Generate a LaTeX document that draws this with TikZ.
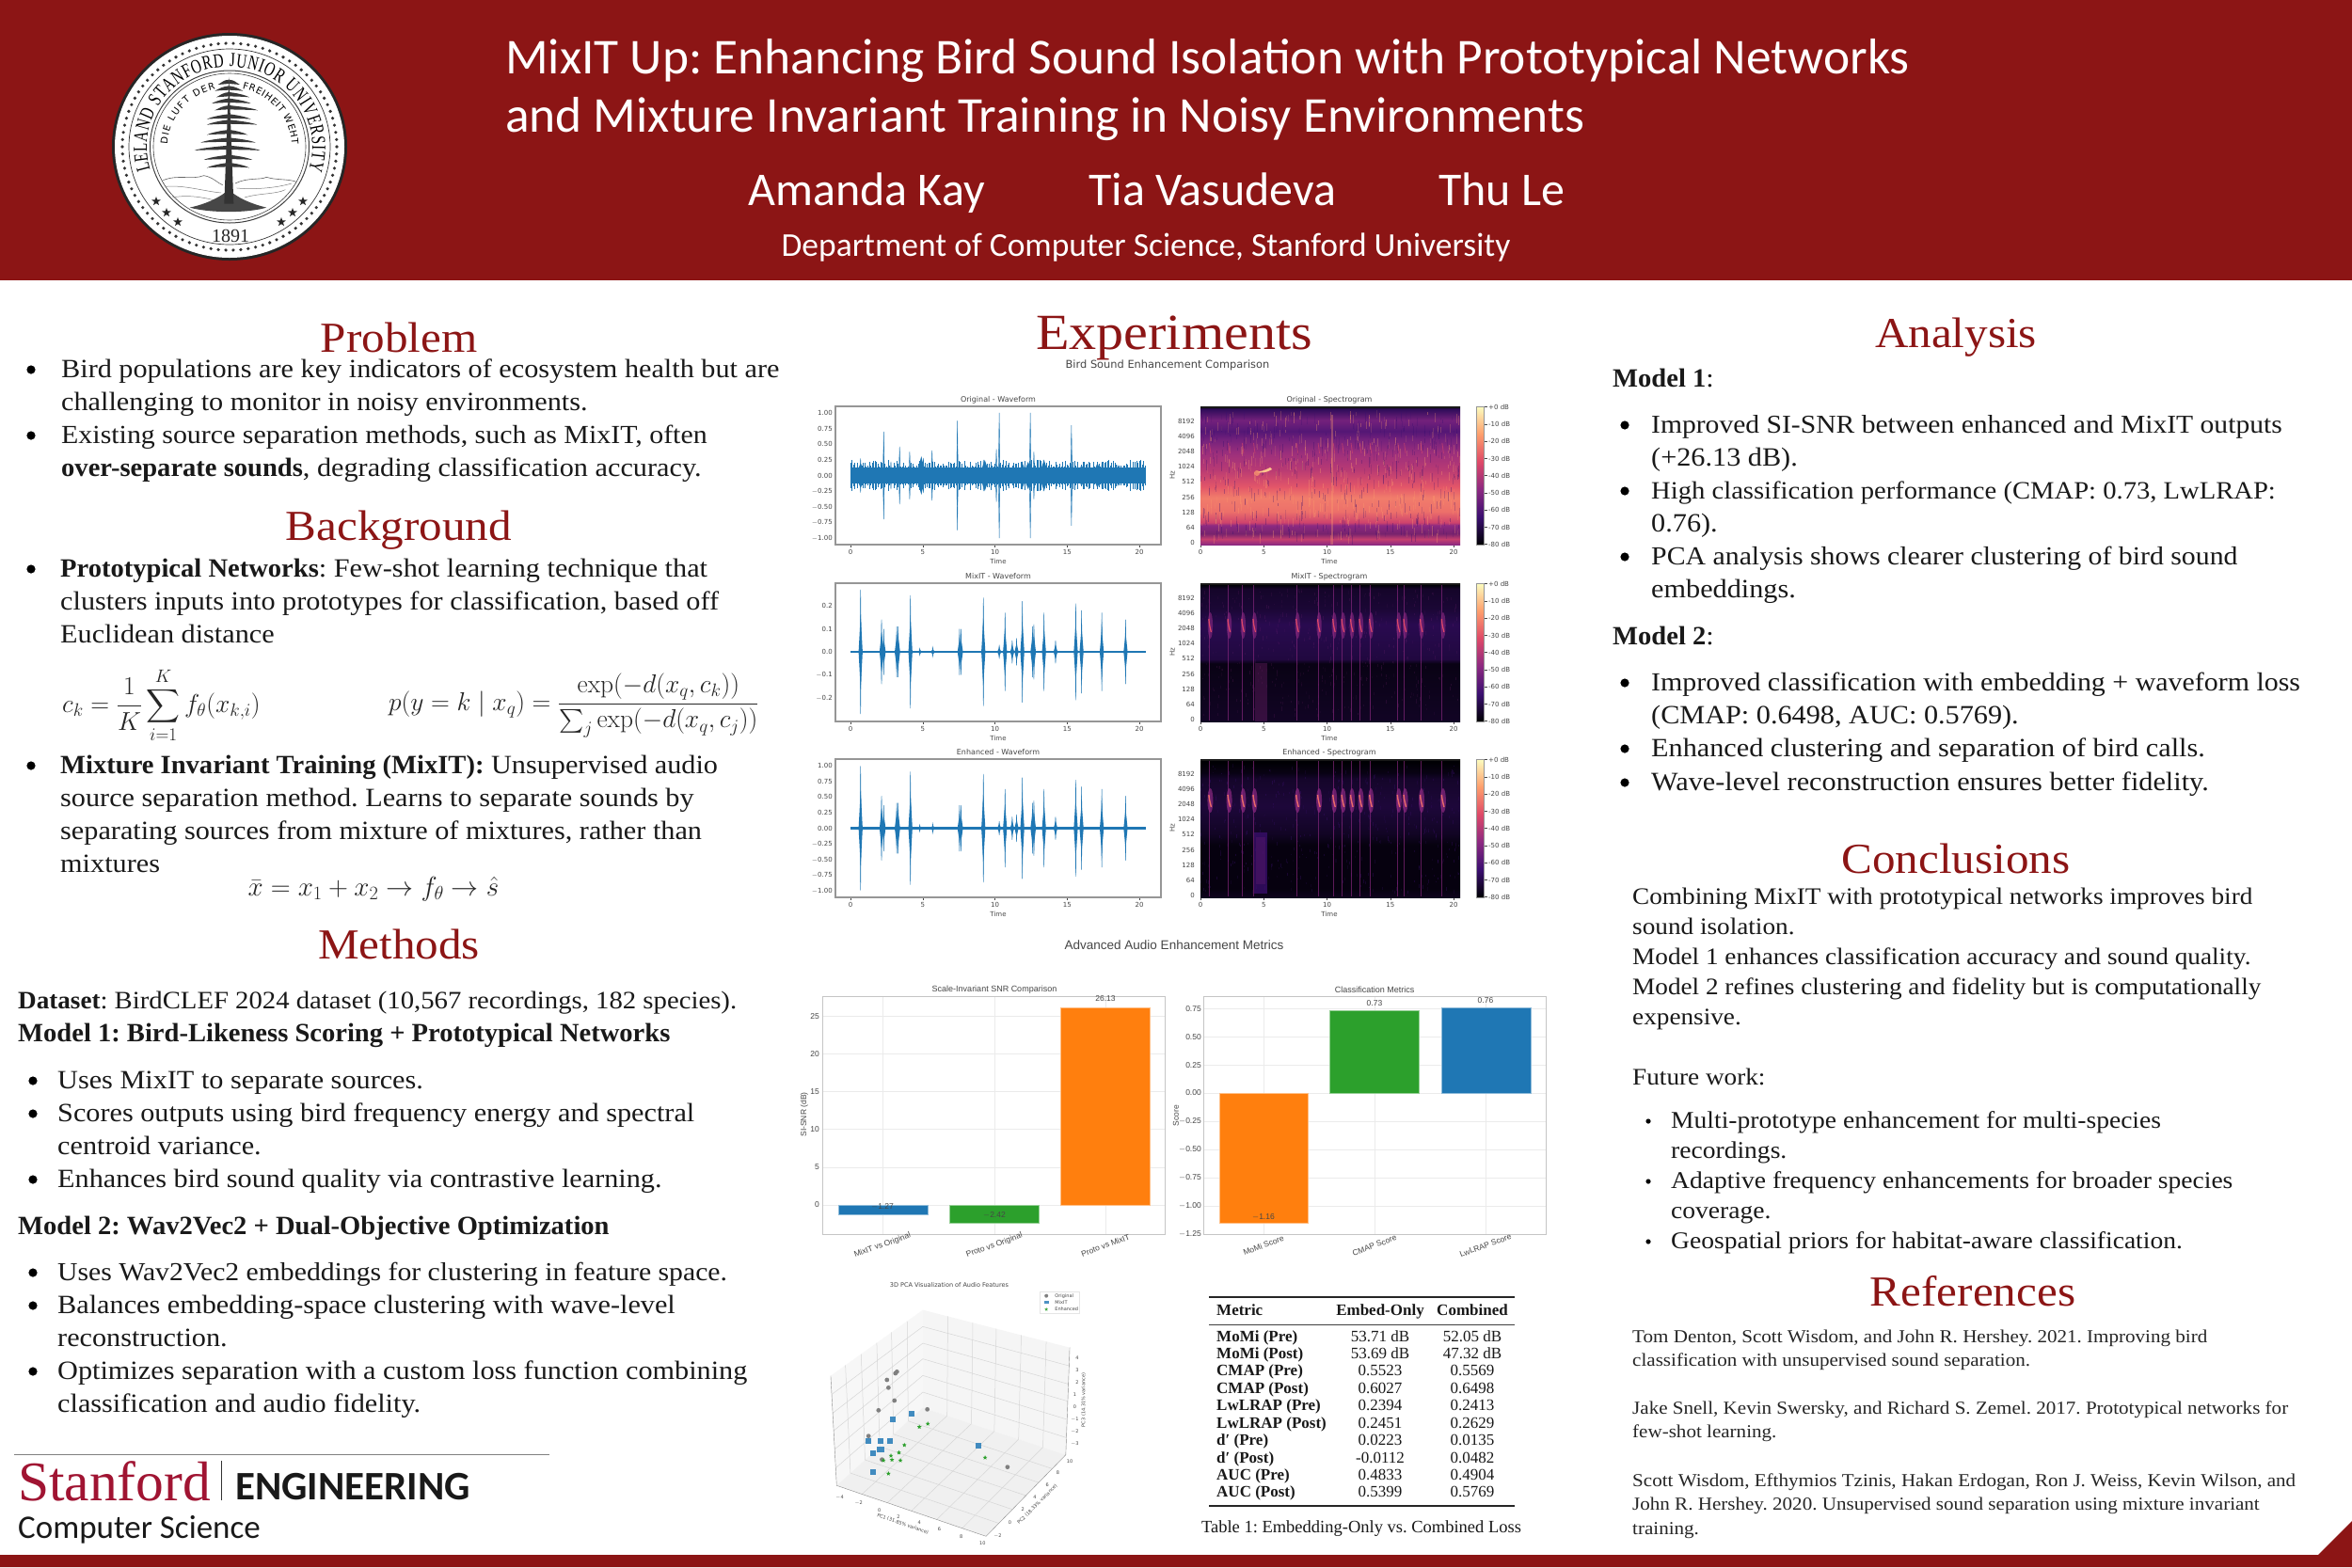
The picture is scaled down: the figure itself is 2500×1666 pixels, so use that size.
\documentclass[tikz,border=0pt]{standalone}
\usepackage{fix-cm}
\usepackage{exscale}
\usepackage[no-math]{fontspec}
\setmainfont{Liberation Serif}[UprightFeatures={FakeStretch=1.08}, BoldFeatures={FakeStretch=1.02}]
\setsansfont{Carlito}
\newfontfamily\plotfont{DejaVu Sans}
\newfontfamily\barfont{Liberation Sans}
\newfontfamily\tablefont{Liberation Serif}
\newfontfamily\sealfont[FakeStretch=.72]{Liberation Serif}
\frenchspacing
\usetikzlibrary{calc, decorations.text, shapes.geometric}
\definecolor{cardinal}{RGB}{140,21,21}
\definecolor{crimson}{RGB}{160,20,50}
\definecolor{tabblue}{RGB}{31,119,180}
\definecolor{taborange}{RGB}{255,127,14}
\definecolor{tabgreen}{RGB}{44,160,44}
\definecolor{inkgray}{RGB}{70,70,70}
\definecolor{spine}{RGB}{150,150,150}
\definecolor{gridgray}{RGB}{235,235,235}
\definecolor{magA}{RGB}{0,0,4}
\definecolor{magB}{RGB}{59,15,112}
\definecolor{magC}{RGB}{140,41,129}
\definecolor{magD}{RGB}{222,73,104}
\definecolor{magE}{RGB}{254,159,109}
\definecolor{magF}{RGB}{252,253,191}
\pgfdeclareverticalshading{magmabar}{100bp}{color(0bp)=(magA); color(25bp)=(magA);
    color(35bp)=(magB); color(45bp)=(magC); color(55bp)=(magD); color(65bp)=(magE);
    color(75bp)=(magF); color(100bp)=(magF)}
\pgfdeclareverticalshading{origspec}{100bp}{color(0bp)=(magC); color(25bp)=(magC);
    color(27bp)=(magD!70!magC); color(29bp)=(magC!85!black); color(32bp)=(magC);
    color(33bp)=(magD!80!magC); color(37bp)=(magE!45!magD); color(42bp)=(magE!60!magD);
    color(46bp)=(magD!85!magE); color(52bp)=(magD!55!magC); color(58bp)=(magC!80!magD);
    color(63bp)=(magC!70!magB); color(66bp)=(magB!70!magC); color(70bp)=(magC!70!magB);
    color(74bp)=(magB!80!magA); color(75bp)=(magA); color(100bp)=(magA)}
\pgfdeclareverticalshading{mixspec}{100bp}{color(0bp)=(magB!30!magA); color(25bp)=(magB!30!magA);
    color(46bp)=(magB!15!magA); color(47.5bp)=(magB!55!magA); color(60bp)=(magB!70!magA);
    color(66bp)=(magB!45!magA); color(73bp)=(magB!35!magA); color(74.5bp)=(magA);
    color(75bp)=(magA); color(100bp)=(magA)}
\pgfdeclareverticalshading{enhspec}{100bp}{color(0bp)=(magB!25!magA); color(25bp)=(magB!25!magA);
    color(28bp)=(magA!90!magB); color(44bp)=(magA!90!magB); color(48bp)=(magB!30!magA);
    color(58bp)=(magB!50!magA); color(68bp)=(magB!35!magA); color(70bp)=(magB!15!magA);
    color(74bp)=(magA); color(75bp)=(magA); color(100bp)=(magA)}
%% times and sizes of the calls, shared by the filtered panels
\def\birdcalls{.7/.27, 2.15/.14, 2.3/.1, 3.2/.11, 3.3/.11, 4.15/.245, 4.8/.015, 5.7/.02,
    7.55/.1, 7.65/.1, 9.2/.235, 10.3/.03, 10.7/.17, 11.2/.05, 11.5/.06, 11.9/.22, 12.6/.11,
    12.7/.12, 13.4/.17, 14.2/.05, 15.6/.21, 16/.18, 17.4/.17, 19.05/.14}
\def\chirptimes{.7, 2.2, 3.3, 4.2, 7.6, 9.3, 10.5, 11.2, 11.9, 12.6, 13.4, 15.6, 16.1, 17.4, 19.1}
%% a line set a little tighter, where the digits run wide
\newcommand{\tighter}[1]{\fontsize{#1}{28}\selectfont}

\begin{document}
\begin{tikzpicture}[
    x=1pt, y=-1pt,
    headline/.style={font=\sffamily\fontsize{53.4}{54}\selectfont, text=white, anchor=base west, inner sep=0pt},
    authorname/.style={font=\sffamily\fontsize{50}{50}\selectfont, text=white, anchor=base west, inner sep=0pt},
    heading/.style={font=\fontsize{45.5}{46}\selectfont, text=cardinal, anchor=base, inner sep=0pt},
    bodyline/.style={font=\fontsize{28}{28}\selectfont, text=black!90, anchor=base west, inner sep=0pt},
    midline/.style={font=\fontsize{25.2}{26}\selectfont, text=black!90, anchor=base west, inner sep=0pt},
    refline/.style={font=\fontsize{19.5}{20}\selectfont, text=black!85, anchor=base west, inner sep=0pt},
    eqnline/.style={font=\fontsize{27.5}{32}\selectfont, text=black!85, inner sep=0pt},
    plottitle/.style={font=\plotfont\fontsize{8}{8}\selectfont, text=inkgray, inner sep=0pt},
    plottick/.style={font=\plotfont\fontsize{7}{7}\selectfont, text=inkgray, inner sep=0pt},
    bartitle/.style={font=\barfont\fontsize{9}{9}\selectfont, text=inkgray, inner sep=0pt},
    bartick/.style={font=\barfont\fontsize{8.5}{8.5}\selectfont, text=inkgray, inner sep=0pt},
    pcatick/.style={font=\plotfont\fontsize{5}{5}\selectfont, text=inkgray, inner sep=0pt},
    tabletext/.style={font=\tablefont\fontsize{17}{17}\selectfont, text=black!90, anchor=base, inner sep=0pt},
    frame/.style={draw=spine, line width=1pt},
    wave/.style={fill=tabblue, draw=tabblue, line width=.35pt},
    gridline/.style={draw=gridgray, line width=1pt},
    wallgrid/.style={draw=black!16, line width=.5pt},
]
    \useasboundingbox (0,0) rectangle (2500,1666);
    \fill[white] (0,0) rectangle (2500,1666);

    %% the header band and the bottom band with its corner
    \fill[cardinal] (0,0) rectangle (2500,298);
    \fill[cardinal] (0,1653) -- (2464,1653) -- (2500,1617) -- (2500,1666) -- (0,1666) -- cycle;

    %% the seal
    \fill[black!85] (244,156) ellipse [x radius=125, y radius=121];
    \fill[white] (244,156) ellipse [x radius=122, y radius=118];
    \foreach \a in {0,4,...,356}
        \fill[black!80] (244,156) ++(\a:114pt and 110pt) circle (1.8pt);
    \draw[black!80, line width=.7pt] (244,156) ellipse [x radius=107, y radius=104];
    \draw[black!75, line width=1pt] (244,156) ellipse [x radius=84.5, y radius=81];
    \draw[black!75, line width=.6pt] (244,156) ellipse [x radius=81, y radius=78];
    \path[decorate, decoration={text along path, text align={fit to path},
            text={|\sealfont\fontsize{21}{21}\selectfont|LELAND STANFORD JUNIOR UNIVERSITY}}]
        (244,156) ++(197:88pt and 85pt) arc[start angle=197, end angle=-17, x radius=88pt, y radius=85pt];
    \path[decorate, decoration={text along path, text align={fit to path},
            text={|\plotfont\fontsize{10}{10}\selectfont|DIE LUFT DER}}]
        (244,156) ++(178:66pt and 63pt) arc[start angle=178, end angle=103, x radius=66pt, y radius=63pt];
    \path[decorate, decoration={text along path, text align={fit to path},
            text={|\plotfont\fontsize{10}{10}\selectfont|FREIHEIT WEHT}}]
        (244,156) ++(78:66pt and 63pt) arc[start angle=78, end angle=2, x radius=66pt, y radius=63pt];
    \node[font=\tablefont\fontsize{20}{20}\selectfont, text=black!85, inner sep=0pt] (sealyear) at (245,251) {1891};
    \foreach \x/\y in {166/214, 177/226, 189/236, 322/214, 311/226, 299/236}
        \node[star, star points=5, star point ratio=2.4, fill=black!85, minimum size=10pt, inner sep=0pt] (sealstar\x) at (\x,\y) {};
    %% hills, then the mound and the tree, in the scale of a 3x crop
    \begin{scope}[shift={(120,60)}, x=.3333pt, y=-.3333pt]
        \draw[black!60, line width=.6pt] (160,395) .. controls (210,375) and (250,395) .. (290,380)
            .. controls (320,385) and (335,405) .. (350,410) (390,405) .. controls (430,385) and (470,395) .. (490,385)
            .. controls (520,395) and (560,390) .. (585,400);
        \draw[black!50, line width=.5pt] (170,415) .. controls (230,410) and (290,430) .. (345,435)
            (395,420) .. controls (450,425) and (520,420) .. (570,405);
        \draw[black!50, line width=.5pt] (190,450) .. controls (240,440) and (290,450) .. (330,460)
            (420,450) .. controls (470,435) and (520,440) .. (550,425);
        \fill[black!72] (245,482) .. controls (300,470) and (340,450) .. (370,425)
            .. controls (395,450) and (440,470) .. (490,482) .. controls (430,500) and (310,500) .. (245,482) -- cycle;
        \fill[black!80] (370,65) -- (355,470) -- (385,470) -- cycle;
        \foreach \y/\xl/\xr in {90/335/405, 110/325/415, 130/330/435, 150/315/440, 172/325/462, 200/300/440,
                218/300/460, 250/300/430, 275/280/455, 300/260/470, 330/290/445, 355/300/435}{
            \fill[black!78] (370,\y-16) .. controls (350,\y-14) and (\xl+15,\y-8) .. (\xl,\y)
                .. controls (\xl+18,\y-2) and (350,\y-2) .. (370,\y-3) -- cycle;
            \fill[black!78] (370,\y-16) .. controls (390,\y-14) and (\xr-15,\y-8) .. (\xr,\y)
                .. controls (\xr-18,\y-2) and (390,\y-2) .. (370,\y-3) -- cycle;
        }
    \end{scope}

    %% title, authors, department
    \node[headline] (titleone) at (537,78) {MixIT Up: Enhancing Bird Sound Isolation with Prototypical Networks};
    \node[headline] (titletwo) at (537,140) {and Mixture Invariant Training in Noisy Environments};
    \foreach \x/\name in {795/Amanda Kay, 1157/Tia Vasudeva, 1529/Thu Le}
        \node[authorname] (author\x) at (\x,218) {\name};
    \node[font=\sffamily\fontsize{35.5}{36}\selectfont, text=white, anchor=base, inner sep=0pt] (dept) at (1218,272)
        {Department of Computer Science, Stanford University};

    %% left column
    \foreach \y/\name in {374/Problem, 574/Background, 1019/Methods}
        \node[heading] (head\y) at (424,\y) {\name};
    \foreach \y/\txt in {401/{Bird populations are key indicators of ecosystem health but are},
            436/{challenging to monitor in noisy environments.},
            471/{\tighter{27.7}Existing source separation methods, such as MixIT, often},
            506/{\textbf{over-separate sounds}, degrading classification accuracy.}}
        \node[bodyline] (prob\y) at (65,\y) {\txt};
    \foreach \y/\txt in {613/{\textbf{Prototypical Networks}: Few-shot learning technique that},
            648/{clusters inputs into prototypes for classification, based off},
            683/{Euclidean distance},
            822/{\textbf{Mixture Invariant Training (MixIT):} Unsupervised audio},
            857/{source separation method. Learns to separate sounds by},
            892/{separating sources from mixture of mixtures, rather than},
            927/{mixtures}}
        \node[bodyline] (back\y) at (64,\y) {\txt};
    \foreach \y/\txt in {1072/{\tighter{26.6}\textbf{Dataset}: BirdCLEF 2024 dataset (10,567 recordings, 182 species).},
            1107/{\textbf{Model 1: Bird-Likeness Scoring + Prototypical Networks}},
            1312/{\textbf{Model 2: Wav2Vec2 + Dual-Objective Optimization}}}
        \node[bodyline] (meth\y) at (19,\y) {\txt};
    \foreach \y/\txt in {1157/{Uses MixIT to separate sources.},
            1192/{Scores outputs using bird frequency energy and spectral},
            1227/{centroid variance.},
            1262/{Enhances bird sound quality via contrastive learning.},
            1361/{\tighter{27.5}Uses Wav2Vec2 embeddings for clustering in feature space.},
            1396/{Balances embedding-space clustering with wave-level},
            1431/{reconstruction.},
            1466/{Optimizes separation with a custom loss function combining},
            1501/{classification and audio fidelity.}}
        \node[bodyline] (meth\y) at (61,\y) {\txt};
    \foreach \x/\y in {33/401, 33/471, 33/613, 33/822, 35/1157, 35/1192, 35/1262, 35/1361, 35/1396, 35/1466,
            1727/460, 1727/530, 1727/600, 1727/734, 1727/804, 1727/840}
        \fill[black] (\x,\y-8) circle (4.6);
    \node[eqnline, anchor=west] (eqproto) at (66,750) {$\displaystyle c_k = \frac{1}{K}\sum_{i=1}^{K} f_\theta(x_{k,i})$};
    \node[eqnline, anchor=west] (eqprob) at (413,750)
        {$\displaystyle p(y=k\mid x_q)=\frac{\exp(-d(x_q,c_k))}{\sum_j\exp(-d(x_q,c_j))}$};
    \node[eqnline, font=\fontsize{29}{32}\selectfont] (eqmix) at (397,945) {$\bar{x}=x_1+x_2\to f_\theta\to\hat{s}$};

    %% logo
    \draw[black!50, line width=.8pt] (15,1546) -- (584,1546);
    \node[font=\tablefont\fontsize{59.5}{60}\selectfont, text=crimson, anchor=base west, inner sep=0pt] (logostanford) at (19,1595) {Stanford};
    \draw[black!80, line width=1pt] (235,1553) -- (235,1595);
    \node[font=\sffamily\bfseries\fontsize{43}{43}\selectfont, text=black!90, anchor=base west, inner sep=0pt] (logoeng) at (250,1594) {ENGINEERING};
    \node[font=\sffamily\fontsize{35}{35}\selectfont, text=black!90, anchor=base west, inner sep=0pt] (logocs) at (19,1635) {Computer Science};

    %% middle column, the six audio panels
    \node[heading, font=\fontsize{53.8}{54}\selectfont] (headexp) at (1248,371) {Experiments};
    \node[plottitle, font=\plotfont\fontsize{11.4}{12}\selectfont] (figone) at (1241,388) {Bird Sound Enhancement Comparison};
    \foreach \top/\name in {432/Original, 620/MixIT, 807/Enhanced}{
        \node[plottitle] (wavetitle\top) at (1061,\top-7) {\name\ - Waveform};
        \node[plottitle] (spectitle\top) at (1413,\top-7) {\name\ - Spectrogram};
        \node[plottick] (wavetime\top) at (1061,\top+165) {Time};
        \node[plottick] (spectime\top) at (1413,\top+165) {Time};
        \node[plottick, rotate=90] (spechz\top) at (1246,\top+73) {Hz};
        \foreach \t in {0,5,10,15,20}{
            \draw[inkgray, line width=.5pt] (904+\t*15.35,\top+147) -- ++(0,3);
            \node[plottick] (wavex\top\t) at (904+\t*15.35,\top+155) {\t};
            \draw[inkgray, line width=.5pt] (1276+\t*13.45,\top+147) -- ++(0,3);
            \node[plottick] (specx\top\t) at (1276+\t*13.45,\top+155) {\t};
        }
        \foreach \d/\f in {16/8192, 32/4096, 48/2048, 64/1024, 80/512, 97/256, 113/128, 129/64, 145/0}
            \node[plottick, anchor=east] (specy\top\f) at (1270,\top+\d) {\f};
        \foreach \k/\db in {0/+0, 1/-10, 2/-20, 3/-30, 4/-40, 5/-50, 6/-60, 7/-70, 8/-80}{
            \draw[inkgray, line width=.5pt] (1577.5,\top+.7+\k*18.25) -- ++(3,0);
            \node[plottick, anchor=west] (bar\top\k) at (1582,\top+.7+\k*18.25) {\db\ dB};
        }
        \shade[shading=magmabar] (1569,\top) rectangle (1577.5,\top+147);
        \draw[spine, line width=.6pt] (1569,\top) rectangle (1577.5,\top+147);
    }
    %% waveform value ticks
    \foreach \d/\s in {7/1.00, 23.7/0.75, 40.4/0.50, 57/0.25, 73.7/0.00, 90.4/$-$0.25, 107/$-$0.50, 123.7/$-$0.75, 140.4/$-$1.00}{
        \node[plottick, anchor=east] (waveyone\d) at (885,432+\d) {\s};
        \node[plottick, anchor=east] (waveythree\d) at (885,807+\d) {\s};
    }
    \foreach \yy/\s in {644/0.2, 668.5/0.1, 693/0.0, 717.5/$-$0.1, 742/$-$0.2}
        \node[plottick, anchor=east] (waveytwo\yy) at (885,\yy) {\s};

    %% the noisy original waveform
    \pgfmathsetseed{11}
    \begin{scope}[shift={(904,505.5)}, x=15.35pt, y=-66.7pt]
        \foreach \i in {0,1,...,204}{
            \pgfmathsetmacro{\amp}{.12+rnd*.13}
            \draw[tabblue, line width=.8pt] (\i*.1,\amp) -- (\i*.1,-\amp);
        }
        \fill[tabblue] (0,.13) rectangle (20.45,-.13);
        \foreach \t/\a in {.7/.2, 4.9/.3, 9.3/.25, 11.9/.2, 12.3/.22, 13.4/.25, 16/.17, 17.1/.2}
            \fill[tabblue] (\t-.35,0) -- (\t,\a) -- (\t+.35,0) -- (\t,-\a) -- cycle;
        \foreach \t/\a in {.7/.27, 2.3/.7, 2.8/.22, 3.4/.46, 4.1/.38, 4.9/.3, 5.05/.28, 5.65/.4, 7.4/.87,
                9.2/.25, 10.1/.42, 10.3/1, 11.9/.22, 12.45/1, 12.7/.38, 13.4/.25, 15.3/.8, 16.5/.2, 17.4/.2, 18.5/.17}
            \draw[wave] (\t-.05,0) -- (\t,\a) -- (\t+.05,0) -- (\t,-\a) -- cycle;
    \end{scope}
    %% the two filtered waveforms, same calls in both
    \foreach \zero in {693, 880.5}{
        \begin{scope}[shift={(904,\zero)}, x=15.35pt, y=-245pt]
            \fill[tabblue] (0,.006) rectangle (20.45,-.006);
            \foreach \t/\a in \birdcalls{
                \draw[wave] (\t-.04,0) -- (\t,\a) -- (\t+.04,0) -- (\t,-\a) -- cycle;
                \fill[tabblue] (\t-.14,0) -- (\t,\a*.6) -- (\t+.14,0) -- (\t,-\a*.6) -- cycle;
            }
        \end{scope}
    }
    \foreach \top in {432, 620, 807}
        \draw[frame, line width=1.3pt] (888,\top) rectangle (1234,\top+147);

    %% spectrograms
    \shade[shading=origspec] (1276,432) rectangle (1552,579);
    \shade[shading=mixspec] (1276,620) rectangle (1552,767);
    \shade[shading=enhspec] (1276,807) rectangle (1552,954);
    \pgfmathsetseed{5}
    \foreach \i in {1,...,450}{
        \pgfmathsetmacro{\nx}{1276+rnd*275}
        \pgfmathsetmacro{\ny}{436+rnd*133}
        \pgfmathsetmacro{\nl}{3+rnd*8}
        \pgfmathsetmacro{\no}{.12+rnd*.25}
        \draw[magE, opacity=\no, line width=.7pt] (\nx,\ny) -- ++(0,\nl);
        \pgfmathsetmacro{\nx}{1276+rnd*275}
        \pgfmathsetmacro{\ny}{436+rnd*133}
        \draw[magB, opacity=\no, line width=.7pt] (\nx,\ny) -- ++(0,\nl);
        \pgfmathsetmacro{\nx}{1276+rnd*275}
        \pgfmathsetmacro{\ny}{625+rnd*135}
        \draw[magC, opacity=\no*.5, line width=.6pt] (\nx,\ny) -- ++(0,\nl*.4);
        \pgfmathsetmacro{\nx}{1276+rnd*275}
        \pgfmathsetmacro{\ny}{812+rnd*135}
        \draw[magB, opacity=\no, line width=.6pt] (\nx,\ny) -- ++(0,\nl*.4);
    }
    %% the streak through everything at 10 s, and the low burst at 5 s
    \fill[magE, opacity=.35] (1415,441) rectangle (1417,579);
    \fill[magE!60!magF] (1350,497) .. controls (1345,500) and (1340,501) .. (1335,502)
        .. controls (1340,503) and (1346,503) .. (1352,499) -- cycle;
    \fill[magE, opacity=.7] (1336,503) circle (3);
    \fill[magC, opacity=.3] (1334,705) rectangle (1347,767);
    \fill[magB, opacity=.75] (1333,885) rectangle (1347,950);
    \fill[magC, opacity=.2] (1335,890) rectangle (1345,940);
    \foreach \t in \chirptimes{
        \draw[magD, opacity=.55, line width=.8pt] (1276+\t*13.45,471) -- ++(1.5,11);
        \draw[magC, opacity=.65, line width=1pt] (1276+\t*13.45,622) -- (1276+\t*13.45,766);
        \fill[magC, opacity=.6] (1277+\t*13.45,665) ellipse [x radius=2.6, y radius=14];
        \draw[magD, line width=1.2pt] (1275.5+\t*13.45,658) .. controls (1276+\t*13.45,664) .. (1278+\t*13.45,672);
        \draw[magC, opacity=.65, line width=1pt] (1276+\t*13.45,809) -- (1276+\t*13.45,953);
        \fill[magC, opacity=.7] (1277+\t*13.45,851) ellipse [x radius=3, y radius=13];
        \draw[magD!60!magE, line width=1.4pt] (1275.5+\t*13.45,845) .. controls (1276+\t*13.45,850) .. (1278+\t*13.45,858);
    }
    \fill[black!90] (1276,432) rectangle (1552,434);
    \fill[black!90] (1276,620) rectangle (1552,622);
    \fill[black!90] (1276,807) rectangle (1552,809);

    %% the two bar charts
    \node[plottitle, font=\barfont\fontsize{13.5}{14}\selectfont] (figtwo) at (1248,1005) {Advanced Audio Enhancement Metrics};
    \node[bartitle] (snrtitle) at (1057,1052) {Scale-Invariant SNR Comparison};
    \node[bartitle] (clstitle) at (1461,1052) {Classification Metrics};
    \foreach \x in {938, 1057, 1175}
        \draw[gridline] (\x,1059) -- (\x,1312);
    \foreach \x in {1343, 1461, 1579}
        \draw[gridline] (\x,1059) -- (\x,1312);
    \foreach \v in {0,5,...,25}{
        \draw[gridline, line width=.5pt] (874,1281-\v*8.03) -- (1238,1281-\v*8.03);
        \node[bartick, anchor=east] (snry\v) at (871,1281-\v*8.03) {\v};
    }
    \foreach \y/\s in {1072.3/0.75, 1102.2/0.50, 1132.1/0.25, 1162/0.00, 1192/$-$0.25, 1222/$-$0.50, 1252/$-$0.75, 1282/$-$1.00, 1312/$-$1.25}{
        \draw[gridline, line width=.5pt] (1279,\y) -- (1643,\y);
        \node[bartick, anchor=east] (clsy\y) at (1277,\y) {\s};
    }
    \draw[spine!55, line width=1pt] (874,1059) rectangle (1238,1312);
    \draw[spine!55, line width=1pt] (1279,1059) rectangle (1643,1312);
    \filldraw[fill=tabblue, draw=tabblue!50, line width=.7pt] (891,1281) rectangle (986,1291);
    \filldraw[fill=tabgreen, draw=tabgreen!50, line width=.7pt] (1009,1281) rectangle (1104,1300.4);
    \filldraw[fill=taborange, draw=taborange!50, line width=.7pt] (1127.5,1281) rectangle (1222,1071);
    \filldraw[fill=taborange, draw=taborange!50, line width=.7pt] (1296,1162) rectangle (1390,1300);
    \filldraw[fill=tabgreen, draw=tabgreen!50, line width=.7pt] (1413,1162) rectangle (1508,1074);
    \filldraw[fill=tabblue, draw=tabblue!50, line width=.7pt] (1532,1162) rectangle (1627,1071);
    \foreach \x/\y/\s in {938/1283/$-$1.27, 1057/1292/$-$2.42, 1175/1062/26.13, 1343/1294/$-$1.16, 1461/1067/0.73, 1579/1064/0.76}
        \node[bartick] (val\x) at (\x,\y) {\s};
    \node[bartick, rotate=90] (snrylabel) at (855,1185) {SI-SNR (dB)};
    \node[bartick, rotate=90] (clsylabel) at (1250,1186) {Score};
    \foreach \x/\s in {938/MixIT vs Original, 1057/Proto vs Original, 1175/Proto vs MixIT,
            1343/MoMi Score, 1461/CMAP Score, 1579/LwLRAP Score}
        \node[bartick, rotate=20] (xlab\x) at (\x,1324) {\s};

    %% the 3D PCA plot, in its own scale
    \begin{scope}[shift={(830,1340)}, x=.5294pt, y=-.3333pt]
        \coordinate (backtop) at (285,158);
        \coordinate (backbot) at (285,470);
        \coordinate (lefttop) at (100,368);
        \coordinate (leftbot) at (112,718);
        \coordinate (righttop) at (580,278);
        \coordinate (rightbot) at (572,620);
        \coordinate (frontbot) at (412,880);
        \fill[black!4] (backtop) -- (righttop) -- (rightbot) -- (backbot) -- cycle;
        \fill[black!3] (backtop) -- (lefttop) -- (leftbot) -- (backbot) -- cycle;
        \fill[black!6] (backbot) -- (rightbot) -- (frontbot) -- (leftbot) -- cycle;
        \foreach \f in {.17,.34,.5,.67,.84}{
            \draw[wallgrid] ($(backtop)!\f!(righttop)$) -- ($(backbot)!\f!(rightbot)$);
            \draw[wallgrid] ($(backtop)!\f!(lefttop)$) -- ($(backbot)!\f!(leftbot)$);
            \draw[wallgrid] ($(backtop)!\f!(backbot)$) -- ($(righttop)!\f!(rightbot)$);
            \draw[wallgrid] ($(backtop)!\f!(backbot)$) -- ($(lefttop)!\f!(leftbot)$);
            \draw[wallgrid] ($(backbot)!\f!(rightbot)$) -- ($(leftbot)!\f!(frontbot)$);
            \draw[wallgrid] ($(backbot)!\f!(leftbot)$) -- ($(rightbot)!\f!(frontbot)$);
        }
        \draw[black!45, line width=.4pt] (lefttop) -- (leftbot) -- (frontbot) -- (rightbot) -- (righttop);
        \node[pcatick, font=\plotfont\fontsize{6.5}{6.5}\selectfont] (pcatitle) at (338,79) {3D PCA Visualization of Audio Features};
        \filldraw[fill=white, draw=black!10, line width=.4pt] (520,100) rectangle (600,168);
        \fill[black!50] (533,113) circle (2pt);
        \fill[tabblue!80] (528,128) rectangle (538,139);
        \node[star, star points=5, star point ratio=2.2, fill=tabgreen!90, minimum size=4pt, inner sep=0pt] (legstar) at (533,156) {};
        \foreach \y/\s in {113/Original, 134/MixIT, 156/Enhanced}
            \node[pcatick, anchor=west] (leg\y) at (550,\y) {\s};
        \foreach \x/\y in {233/355, 230/360, 213/381, 216/406, 228/447, 196/478, 294/475, 176/560, 203/635, 455/659}
            \fill[black!50] (\x,\y) circle (2.4pt);
        \foreach \x/\y in {262/490, 224/507, 175/577, 200/577, 220/575, 198/604, 203/602, 185/615, 185/674, 396/591}
            \fill[tabblue!85] (\x-5.7,\y-9) rectangle (\x+5.7,\y+9);
        \foreach \x/\y in {295/521, 278/531, 248/589, 237/613, 221/623, 223/636, 206/638, 240/638, 216/680, 410/629}
            \node[star, star points=5, star point ratio=2.2, fill=tabgreen, minimum size=5pt, inner sep=0pt] (pcastar\x\y) at (\x,\y) {};
        \foreach \x/\y/\s in {118/755/$-$4, 156/775/$-$2, 198/797/0, 236/817/2, 278/837/4, 318/858/6, 362/880/8, 405/902/10,
                435/878/$-$2, 460/835/0, 486/795/2, 510/755/4, 535/715/6, 556/678/8, 580/640/10,
                595/310/4, 595/349/3, 595/389/2, 590/428/1, 590/468/0, 590/508/$-$1, 590/547/$-$2, 590/586/$-$3}
            \node[pcatick] (pcat\x) at (\x,\y) {\s};
        \node[pcatick, rotate=-19] (pcaone) at (245,840) {PC1 (31.85\% variance)};
        \node[pcatick, rotate=45] (pcatwo) at (515,778) {PC2 (18.33\% variance)};
        \node[pcatick, rotate=90] (pcathree) at (608,445) {PC3 (14.31\% variance)};
    \end{scope}

    %% the table
    \draw[black!85, line width=1.4pt] (1285,1379) -- (1610,1379);
    \draw[black!75, line width=.9pt] (1285,1408) -- (1610,1408);
    \draw[black!85, line width=1.4pt] (1285,1601) -- (1610,1601);
    \node[tabletext, anchor=base west] (tabmetric) at (1293,1398) {\textbf{Metric}};
    \node[tabletext] (tabembed) at (1467,1398) {\textbf{Embed-Only}};
    \node[tabletext] (tabcomb) at (1565,1398) {\textbf{Combined}};
    \foreach \y/\m/\a/\b in {1426/MoMi (Pre)/53.71 dB/52.05 dB, 1444.4/MoMi (Post)/53.69 dB/47.32 dB,
            1462.8/CMAP (Pre)/0.5523/0.5569, 1481.3/CMAP (Post)/0.6027/0.6498,
            1499.7/LwLRAP (Pre)/0.2394/0.2413, 1518/LwLRAP (Post)/0.2451/0.2629,
            1536.5/d′ (Pre)/0.0223/0.0135, 1555/d′ (Post)/-0.0112/0.0482,
            1573.3/AUC (Pre)/0.4833/0.4904, 1591.7/AUC (Post)/0.5399/0.5769}{
        \node[tabletext, anchor=base west] (rowm\y) at (1293,\y) {\textbf{\m}};
        \node[tabletext] (rowa\y) at (1467,\y) {\a};
        \node[tabletext] (rowb\y) at (1565,\y) {\b};
    }
    \node[tabletext, font=\tablefont\fontsize{18.5}{19}\selectfont] (tabcap) at (1447,1629) {Table 1: Embedding-Only vs. Combined Loss};

    %% right column
    \node[heading] (headana) at (2079,369) {Analysis};
    \node[heading] (headcon) at (2079,928) {Conclusions};
    \node[heading] (headref) at (2097,1388) {References};
    \foreach \y/\txt in {411/{\textbf{Model 1}:}, 685/{\textbf{Model 2}:}}
        \node[bodyline] (ana\y) at (1714,\y) {\txt};
    \foreach \y/\txt in {460/{\tighter{27.4}Improved SI-SNR between enhanced and MixIT outputs},
            495/{(+26.13 dB).},
            530/{\tighter{26.5}High classification performance (CMAP: 0.73, LwLRAP:},
            565/{0.76).},
            600/{\tighter{27.6}PCA analysis shows clearer clustering of bird sound},
            635/{embeddings.},
            734/{\tighter{27.7}Improved classification with embedding + waveform loss},
            769/{(CMAP: 0.6498, AUC: 0.5769).},
            804/{Enhanced clustering and separation of bird calls.},
            840/{Wave-level reconstruction ensures better fidelity.}}
        \node[bodyline] (ana\y) at (1755,\y) {\txt};
    \foreach \y/\txt in {961/{Combining MixIT with prototypical networks improves bird},
            993/{sound isolation.},
            1025/{Model 1 enhances classification accuracy and sound quality.},
            1057/{Model 2 refines clustering and fidelity but is computationally},
            1089/{expensive.},
            1153/{Future work:}}
        \node[midline] (con\y) at (1735,\y) {\txt};
    \foreach \y/\txt in {1199/{Multi-prototype enhancement for multi-species},
            1231/{recordings.},
            1263/{Adaptive frequency enhancements for broader species},
            1295/{coverage.},
            1327/{Geospatial priors for habitat-aware classification.}}
        \node[midline, font=\fontsize{25.5}{26}\selectfont] (fut\y) at (1776,\y) {\txt};
    \foreach \y in {1199, 1263, 1327}
        \fill[black] (1752,\y-7) circle (2.6);
    \foreach \y/\txt in {1427/{Tom Denton, Scott Wisdom, and John R. Hershey. 2021. Improving bird},
            1452/{classification with unsupervised sound separation.},
            1503/{Jake Snell, Kevin Swersky, and Richard S. Zemel. 2017. Prototypical networks for},
            1528/{few-shot learning.},
            1580/{Scott Wisdom, Efthymios Tzinis, Hakan Erdogan, Ron J. Weiss, Kevin Wilson, and},
            1605/{John R. Hershey. 2020. Unsupervised sound separation using mixture invariant},
            1631/{training.}}
        \node[refline] (refs\y) at (1735,\y) {\txt};
\end{tikzpicture}
\end{document}
